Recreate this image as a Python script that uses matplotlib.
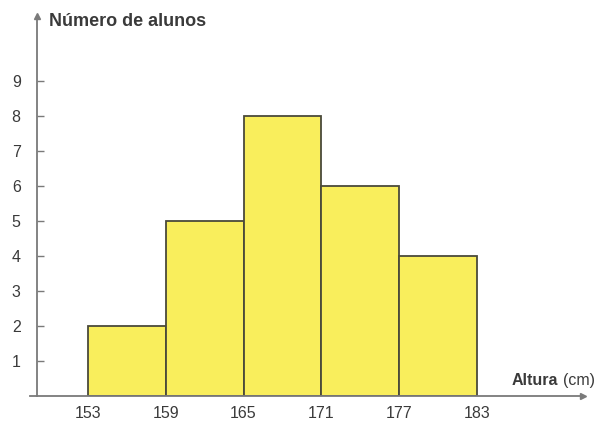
import matplotlib
matplotlib.use('Agg')
import matplotlib.pyplot as plt

# histogram data
edges = [153, 159, 165, 171, 177, 183]
alunos = [2, 5, 8, 6, 4]
yticks = [1, 2, 3, 4, 5, 6, 7, 8, 9]

plt.rcParams['font.family'] = ['Liberation Sans', 'DejaVu Sans']

fig = plt.figure(figsize=(6.08, 4.21), dpi=100)
ax = fig.add_axes([30/608, 1 - 396/421, 570/608, 381/421])
ax.set_xlim(148.53, 192.5)
ax.set_ylim(0, 10.89)

lefts = edges[:-1]
widths = [edges[i+1] - edges[i] for i in range(len(alunos))]
ax.bar(lefts, alunos, width=widths, align='edge', color='#f9ee5c',
       edgecolor='#4a4a3a', linewidth=1.3, zorder=2)

axis_col = '#7a7a7a'
txt_col = '#3a3a3a'
yaxis_x = 149.1
xaxis_end = 191.2
yaxis_top = 10.85

for s in ['top', 'right']:
    ax.spines[s].set_visible(False)
ax.spines['left'].set_position(('data', yaxis_x))
ax.spines['left'].set_bounds(0, yaxis_top)
ax.spines['left'].set_color(axis_col)
ax.spines['left'].set_linewidth(1.3)
ax.spines['bottom'].set_bounds(148.53, xaxis_end)
ax.spines['bottom'].set_color(axis_col)
ax.spines['bottom'].set_linewidth(1.3)

# arrow heads
ax.plot([yaxis_x], [yaxis_top], marker='^', color=axis_col, markersize=5, clip_on=False)
ax.plot([xaxis_end], [0], marker='>', color=axis_col, markersize=5, clip_on=False)

ax.set_yticks(yticks)
ax.set_yticklabels([str(t) for t in yticks])
ax.tick_params(axis='y', direction='in', length=5, width=1, color=axis_col,
               labelsize=11.5, labelcolor=txt_col, pad=12)
ax.set_xticks(edges)
ax.set_xticklabels([str(e) for e in edges])
ax.tick_params(axis='x', length=0, labelsize=11.5, labelcolor=txt_col, pad=7)

ax.text(150.0, 10.7, 'Número de alunos', fontsize=13, fontweight='bold',
        color=txt_col, va='center', ha='left')
t1 = ax.text(185.7, 0.45, 'Altura', fontsize=11.5, fontweight='bold',
             color=txt_col, va='center', ha='left')
ax.annotate('(cm)', xy=(1, 0.5), xycoords=t1, xytext=(3, 0),
            textcoords='offset points', fontsize=11.5, color=txt_col,
            va='center', ha='left')

fig.savefig('out.png', dpi=100)
